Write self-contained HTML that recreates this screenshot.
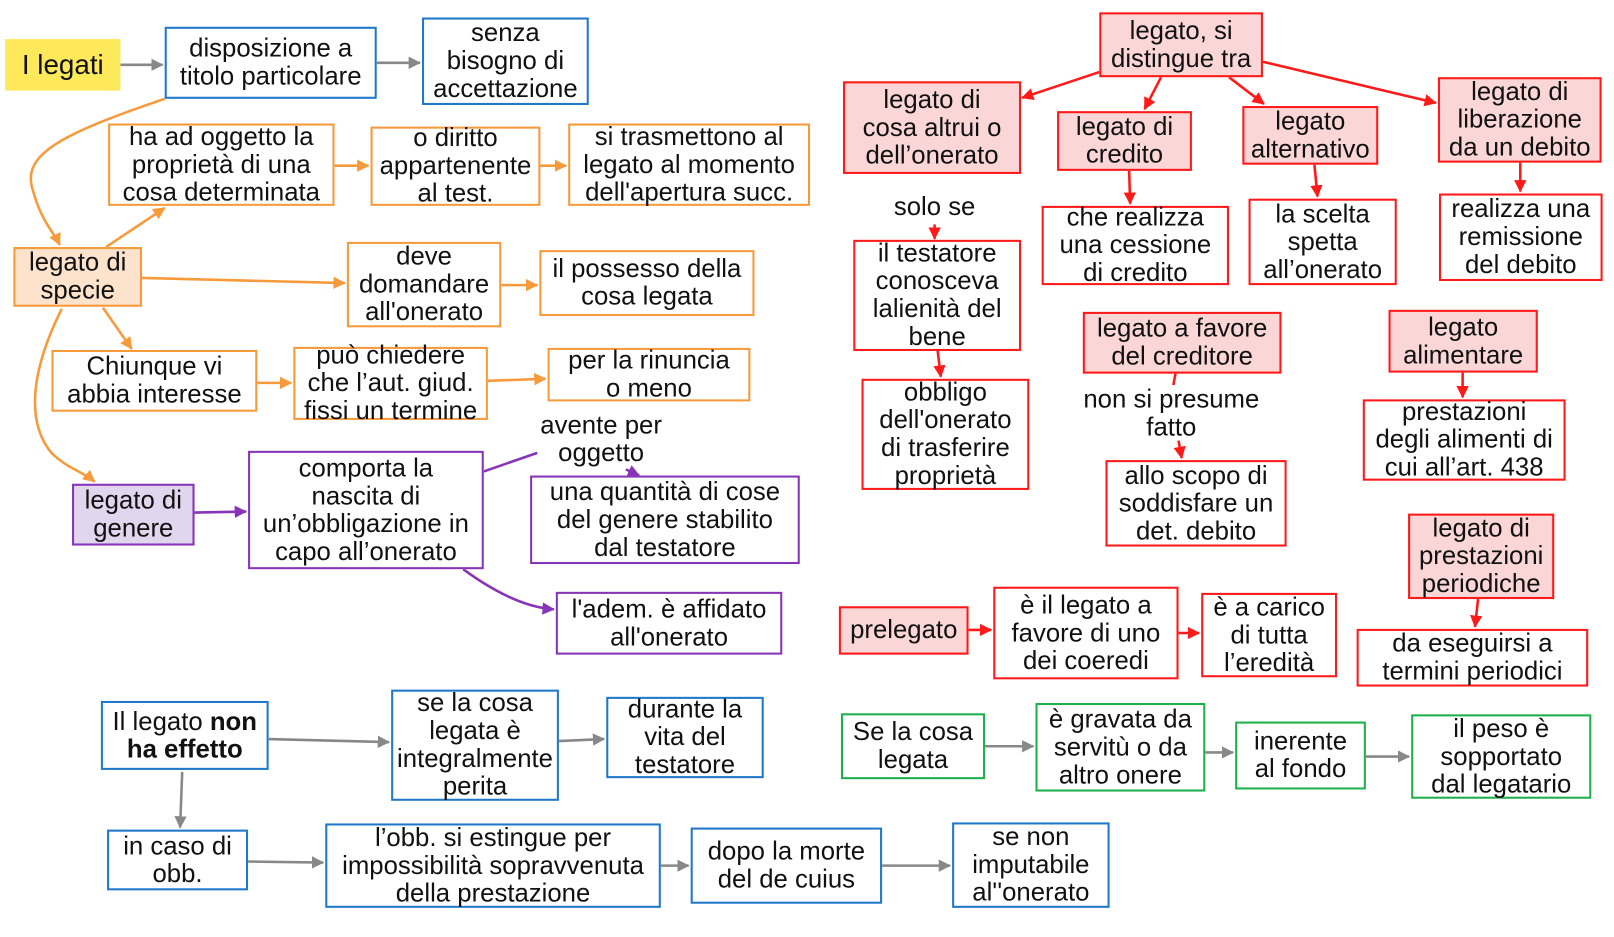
<!DOCTYPE html>
<html><head><meta charset="utf-8"><style>
html,body{margin:0;padding:0;background:#fff;width:1614px;height:937px;overflow:hidden}
#w{position:absolute;left:0;top:0;width:1568px;height:910px;transform:scale(1.0293);transform-origin:0 0}
.b{position:absolute;box-sizing:border-box;display:flex;align-items:center;justify-content:center;text-align:center;font-family:"Liberation Sans",Arial,sans-serif;font-size:25px;line-height:27px;color:#111;border:2.5px solid;background:#fff;white-space:nowrap}
.bl{border-color:#1f78c8}.or{border-color:#f79a3c}.pu{border-color:#8834b8}.rd{border-color:#ff1a1a}.gr{border-color:#1eb04a}
.rf{background:#fad6d6}.of{background:#fde3cc}.pf{background:#e2d6ee}
.l{position:absolute;font-family:"Liberation Sans",Arial,sans-serif;font-size:25px;line-height:27px;color:#111;text-align:center;white-space:nowrap}
svg{position:absolute;left:0;top:0}
</style></head><body><div id="w">
<svg width="1568" height="910">
<defs>
<marker id="ao" markerWidth="12" markerHeight="12" refX="11" refY="6" orient="auto" markerUnits="userSpaceOnUse"><path d="M0,0 L12,6 L0,12z" fill="#f79a3c"/></marker>
<marker id="ap" markerWidth="12" markerHeight="12" refX="11" refY="6" orient="auto" markerUnits="userSpaceOnUse"><path d="M0,0 L12,6 L0,12z" fill="#8834b8"/></marker>
<marker id="ar" markerWidth="12" markerHeight="12" refX="11" refY="6" orient="auto" markerUnits="userSpaceOnUse"><path d="M0,0 L12,6 L0,12z" fill="#ff1a1a"/></marker>
<marker id="gg" markerWidth="12" markerHeight="12" refX="11" refY="6" orient="auto" markerUnits="userSpaceOnUse"><path d="M0,0 L12,6 L0,12z" fill="#888"/></marker>
</defs>
<g stroke="#888" stroke-width="2.5" fill="none" marker-end="url(#gg)">
<path d="M117,63 L158,63"/><path d="M366,61 L408,61"/><path d="M261,718 L378,721"/><path d="M543,720 L587,718"/>
<path d="M177,750 L175,804"/><path d="M241,837 L314,838"/><path d="M642,841 L669,841"/><path d="M857,841 L923,841"/>
<path d="M957,725 L1004,725"/><path d="M1171,731 L1198,731"/><path d="M1327,735 L1369,735"/>
</g>
<g stroke="#f79a3c" stroke-width="2.5" fill="none" marker-end="url(#ao)">
<path d="M160,96 C60,130 20,150 32,185 C40,215 52,225 58,238"/>
<path d="M103,240 L160,202"/><path d="M325,161 L358,161"/><path d="M525,161 L550,161"/>
<path d="M138,270 L335,275"/><path d="M487,277 L522,277"/><path d="M100,299 L128,339"/>
<path d="M250,372 L283,372"/><path d="M474,370 L530,368"/>
<path d="M60,300 C30,360 25,410 50,440 C65,455 80,458 92,468"/>
</g>
<g stroke="#8834b8" stroke-width="2.5" fill="none">
<path d="M189,498 L239,497" marker-end="url(#ap)"/>
<path d="M470,458 L522,440"/>
<path d="M608,456 L621,462" marker-end="url(#ap)"/>
<path d="M450,553 C480,575 510,590 538,592" marker-end="url(#ap)"/>
</g>
<g stroke="#ff1a1a" stroke-width="2.5" fill="none" marker-end="url(#ar)">
<path d="M1068,70 L993,95"/><path d="M1128,75 L1112,106"/><path d="M1194,75 L1228,101"/><path d="M1227,60 L1395,100"/>
<path d="M908,218 L908,232"/><path d="M911,341 L914,366"/><path d="M1097,166 L1098,198"/><path d="M1277,160 L1280,191"/>
<path d="M1477,158 L1477,186"/><path d="M1145,428 L1148,445"/><path d="M1421,362 L1421,386"/><path d="M1436,582 L1433,609"/>
<path d="M941,612 L963,612"/><path d="M1145,615 L1165,615"/>
</g>
<path d="M1142,363 L1140,374" stroke="#ff1a1a" stroke-width="2.5"/>
</svg>

<div class="b" style="left:5px;top:38px;width:112px;height:50px;background:#fde95a;border:none;font-size:27px">I legati</div>
<div class="b bl" style="left:160px;top:26px;width:206px;height:70px">disposizione a<br>titolo particolare</div>
<div class="b bl" style="left:410px;top:17px;width:162px;height:85px">senza<br>bisogno di<br>accettazione</div>

<div class="b or" style="left:105px;top:120px;width:220px;height:80px">ha ad oggetto la<br>proprietà di una<br>cosa determinata</div>
<div class="b or" style="left:360px;top:123px;width:165px;height:77px">o diritto<br>appartenente<br>al test.</div>
<div class="b or" style="left:552px;top:120px;width:235px;height:80px">si trasmettono al<br>legato al momento<br>dell'apertura succ.</div>
<div class="b or of" style="left:13px;top:240px;width:125px;height:58px">legato di<br>specie</div>
<div class="b or" style="left:337px;top:235px;width:150px;height:83px">deve<br>domandare<br>all'onerato</div>
<div class="b or" style="left:524px;top:243px;width:209px;height:64px">il possesso della<br>cosa legata</div>
<div class="b or" style="left:50px;top:340px;width:200px;height:60px">Chiunque vi<br>abbia interesse</div>
<div class="b or" style="left:285px;top:337px;width:189px;height:71px">può chiedere<br>che l’aut. giud.<br>fissi un termine</div>
<div class="b or" style="left:532px;top:338px;width:197px;height:52px">per la rinuncia<br>o meno</div>

<div class="b pu pf" style="left:70px;top:470px;width:119px;height:60px">legato di<br>genere</div>
<div class="b pu" style="left:241px;top:438px;width:229px;height:115px">comporta la<br>nascita di<br>un’obbligazione in<br>capo all’onerato</div>
<div class="l" style="left:523px;top:400px;width:122px">avente per<br>oggetto</div>
<div class="b pu" style="left:515px;top:462px;width:262px;height:86px">una quantità di cose<br>del genere stabilito<br>dal testatore</div>
<div class="b pu" style="left:540px;top:575px;width:220px;height:61px">l'adem. è affidato<br>all'onerato</div>

<div class="b bl" style="left:98px;top:681px;width:163px;height:67px"><span>Il legato <b>non</b><br><b>ha effetto</b></span></div>
<div class="b bl" style="left:380px;top:670px;width:163px;height:108px">se la cosa<br>legata è<br>integralmente<br>perita</div>
<div class="b bl" style="left:589px;top:677px;width:153px;height:79px">durante la<br>vita del<br>testatore</div>
<div class="b bl" style="left:104px;top:806px;width:137px;height:59px">in caso di<br>obb.</div>
<div class="b bl" style="left:316px;top:800px;width:326px;height:82px">l’obb. si estingue per<br>impossibilità sopravvenuta<br>della prestazione</div>
<div class="b bl" style="left:671px;top:804px;width:186px;height:74px">dopo la morte<br>del de cuius</div>
<div class="b bl" style="left:925px;top:799px;width:153px;height:83px">se non<br>imputabile<br>al''onerato</div>

<div class="b rd rf" style="left:1068px;top:12px;width:159px;height:63px">legato, si<br>distingue tra</div>
<div class="b rd rf" style="left:819px;top:79px;width:173px;height:90px">legato di<br>cosa altrui o<br>dell’onerato</div>
<div class="b rd rf" style="left:1027px;top:108px;width:131px;height:58px">legato di<br>credito</div>
<div class="b rd rf" style="left:1207px;top:103px;width:132px;height:57px">legato<br>alternativo</div>
<div class="b rd rf" style="left:1397px;top:75px;width:159px;height:83px">legato di<br>liberazione<br>da un debito</div>
<div class="l" style="left:848px;top:188px;width:120px">solo se</div>
<div class="b rd" style="left:829px;top:233px;width:163px;height:108px">il testatore<br>conosceva<br>lalienità del<br>bene</div>
<div class="b rd" style="left:837px;top:368px;width:163px;height:108px">obbligo<br>dell'onerato<br>di trasferire<br>proprietà</div>
<div class="b rd" style="left:1012px;top:200px;width:182px;height:77px">che realizza<br>una cessione<br>di credito</div>
<div class="b rd" style="left:1213px;top:193px;width:144px;height:84px">la scelta<br>spetta<br>all’onerato</div>
<div class="b rd" style="left:1398px;top:188px;width:159px;height:85px">realizza una<br>remissione<br>del debito</div>
<div class="b rd rf" style="left:1052px;top:303px;width:193px;height:60px">legato a favore<br>del creditore</div>
<div class="l" style="left:1038px;top:375px;width:200px">non si presume<br>fatto</div>
<div class="b rd" style="left:1074px;top:447px;width:176px;height:84px">allo scopo di<br>soddisfare un<br>det. debito</div>
<div class="b rd rf" style="left:1349px;top:301px;width:145px;height:61px">legato<br>alimentare</div>
<div class="b rd" style="left:1324px;top:388px;width:197px;height:79px">prestazioni<br>degli alimenti di<br>cui all’art. 438</div>
<div class="b rd rf" style="left:1368px;top:499px;width:142px;height:83px">legato di<br>prestazioni<br>periodiche</div>
<div class="b rd" style="left:1318px;top:611px;width:225px;height:56px">da eseguirsi a<br>termini periodici</div>
<div class="b rd rf" style="left:815px;top:589px;width:126px;height:47px">prelegato</div>
<div class="b rd" style="left:965px;top:570px;width:180px;height:90px">è il legato a<br>favore di uno<br>dei coeredi</div>
<div class="b rd" style="left:1167px;top:576px;width:132px;height:82px">è a carico<br>di tutta<br>l’eredità</div>

<div class="b gr" style="left:817px;top:693px;width:140px;height:64px">Se la cosa<br>legata</div>
<div class="b gr" style="left:1006px;top:683px;width:165px;height:86px">è gravata da<br>servitù o da<br>altro onere</div>
<div class="b gr" style="left:1200px;top:701px;width:127px;height:66px">inerente<br>al fondo</div>
<div class="b gr" style="left:1371px;top:694px;width:175px;height:82px">il peso è<br>sopportato<br>dal legatario</div>
</div></body></html>
